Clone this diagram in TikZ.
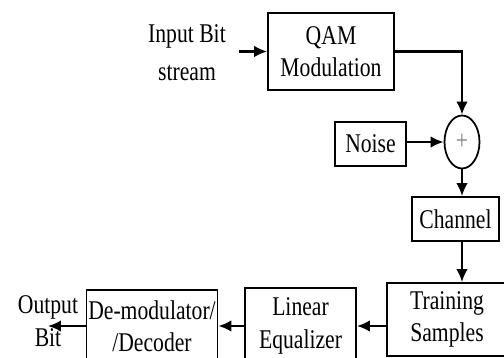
\documentclass[tikz,border=0pt]{standalone}
\usepackage{fontspec}
\setmainfont{Liberation Serif}[FakeStretch=0.8]
\usetikzlibrary{arrows.meta, calc, positioning, shapes.geometric}

\tikzset{
  blk/.style={draw, line width=1pt, align=center, inner xsep=1pt, inner ysep=2pt},
  arr/.style={line width=1.2pt, -{Latex[length=2.6mm, width=2.3mm]}},
}

\begin{document}
\begin{tikzpicture}[x=0.02cm, y=-0.02cm, font=\fontsize{15.4}{18.5}\selectfont]
    \useasboundingbox (0,0) rectangle (504,358);

    % transmitter side
    \node[align=center] (in) at (187,53) {Input Bit\\[3pt]stream};
    \node[blk, minimum width=2.52cm, minimum height=1.54cm] (qam) at (331,51.5) {QAM\\Modulation};
    \node[draw, ellipse, line width=1pt, minimum width=0.7cm, minimum height=1.06cm, inner sep=0pt] (sum) at (462,142) {\color{gray}+};
    \node[blk, minimum width=1.42cm, minimum height=0.88cm] (noise) at (370.5,144) {Noise};
    \node[blk, minimum width=1.74cm, minimum height=0.88cm] (chan) at (455.5,219) {Channel};

    % receiver side
    \node[blk, minimum width=2.4cm, minimum height=1.46cm] (train) at (447,319.5) {Training\\Samples};
    \node[blk, minimum width=2.22cm, minimum height=1.52cm] (lin) at (300.5,326) {Linear\\Equalizer};
    \node[blk, minimum width=2.6cm, minimum height=1.44cm] (dec) at (152,326) {De-modulator/\\/Decoder};
    \node[align=center] (out) at (48,321) {Output\\Bit};

    % signal path
    \draw[arr] ([xshift=4pt]in.east |- qam.west) -- (qam.west);
    \draw[arr] (qam.east) -| (sum.north);
    \draw[arr] (noise.east |- sum.west) -- (sum.west);
    \draw[arr] (sum.south) -- (sum.south |- chan.north);
    \draw[arr] (sum.south |- chan.south) -- (sum.south |- train.north);
    \draw[arr] (train.west |- lin.east) -- (lin.east);
    \draw[arr] (lin.west) -- (dec.east);
    \draw[arr] (dec.west) -- (dec.west -| out.center);
\end{tikzpicture}
\end{document}
